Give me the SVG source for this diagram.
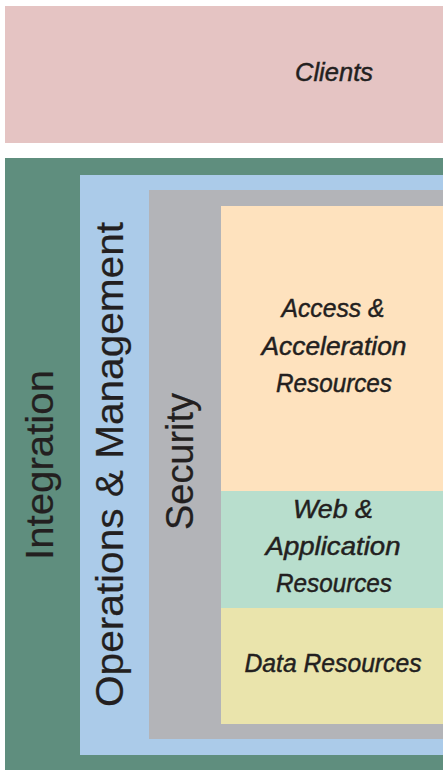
<svg xmlns="http://www.w3.org/2000/svg" width="444" height="770" viewBox="0 0 444 770">
<style>
.lbl{font-family:"Liberation Sans",Arial,sans-serif;font-style:italic;font-size:25px;fill:#231f20;stroke:#231f20;stroke-width:0.45px;text-anchor:middle}
.vlbl{font-family:"Liberation Sans",Arial,sans-serif;font-size:38px;fill:#231f20;stroke:#231f20;stroke-width:0.2px;text-anchor:middle}
</style>
<rect width="444" height="770" fill="#ffffff"/>
<g id="clients">
<rect x="5" y="6" width="438" height="137" fill="#e5c4c3"/>
<text class="lbl" x="334" y="81" textLength="78" lengthAdjust="spacingAndGlyphs">Clients</text>
</g>
<g id="integration">
<rect x="5" y="158" width="438" height="612" fill="#5f8e7e"/>
<text class="vlbl" transform="translate(53,465) rotate(-90)" font-size="40" textLength="190" lengthAdjust="spacingAndGlyphs">Integration</text>
</g>
<g id="operations-management">
<rect x="80" y="175" width="363" height="580" fill="#abcbe9"/>
<text class="vlbl" transform="translate(123,464.5) rotate(-90)" textLength="485" lengthAdjust="spacingAndGlyphs">Operations &amp; Management</text>
</g>
<g id="security">
<rect x="149" y="190" width="294" height="549" fill="#b3b4b8"/>
<text class="vlbl" transform="translate(193,461.5) rotate(-90)" textLength="137" lengthAdjust="spacingAndGlyphs">Security</text>
</g>
<g id="access-acceleration">
<rect x="221" y="206" width="222" height="285" fill="#fee2be"/>
<text class="lbl" x="333" y="317" textLength="103" lengthAdjust="spacingAndGlyphs">Access &amp;</text>
<text class="lbl" x="334" y="355" textLength="145" lengthAdjust="spacingAndGlyphs">Acceleration</text>
<text class="lbl" x="334" y="392" font-size="26" textLength="116" lengthAdjust="spacingAndGlyphs">Resources</text>
</g>
<g id="web-application">
<rect x="221" y="491" width="222" height="117" fill="#b8decd"/>
<text class="lbl" x="333" y="518" textLength="80" lengthAdjust="spacingAndGlyphs">Web &amp;</text>
<text class="lbl" x="333" y="555" textLength="135" lengthAdjust="spacingAndGlyphs">Application</text>
<text class="lbl" x="334" y="592" font-size="26" textLength="116" lengthAdjust="spacingAndGlyphs">Resources</text>
</g>
<g id="data">
<rect x="221" y="608" width="222" height="116" fill="#eae4ac"/>
<text class="lbl" x="333" y="672" textLength="177" lengthAdjust="spacingAndGlyphs">Data Resources</text>
</g>
<g id="connectors"></g>
</svg>
